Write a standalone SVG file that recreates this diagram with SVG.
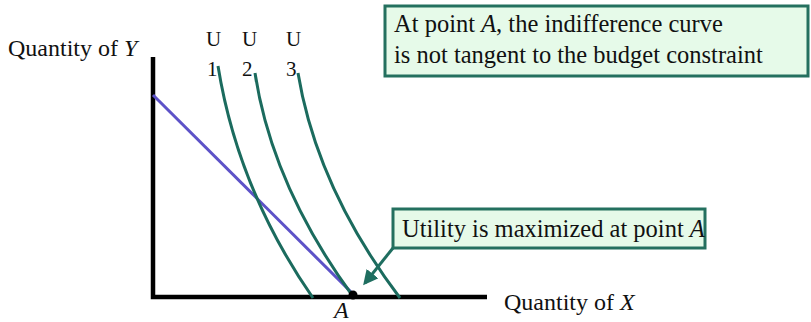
<svg xmlns="http://www.w3.org/2000/svg" width="811" height="322" viewBox="0 0 811 322" font-family="'Liberation Serif', 'DejaVu Serif', serif">
<defs>
<style>
text{font-family:'Liberation Serif','DejaVu Serif',serif;fill:#111}
.lbl{font-size:24px}
.box{fill:#e6fae9;stroke:#24705f;stroke-width:3}
.bt{font-size:24.5px}
.u{font-size:21px}
.curve{fill:none;stroke:#1b6b5e;stroke-width:3}
.axis{stroke:#000;stroke-width:4.5;fill:none}
</style>
<marker id="ah" viewBox="0 0 10 10" refX="8" refY="5" markerWidth="5" markerHeight="5" orient="auto"><path d="M0,0 L10,5 L0,10 z" fill="#1f6e60"/></marker>
</defs>
<rect width="811" height="322" fill="#fff"/>
<g id="axes">
<path class="axis" d="M153,57 V297 H487"/>
<text class="lbl" x="8" y="56">Quantity of <tspan font-style="italic">Y</tspan></text>
<text class="lbl" x="504" y="310">Quantity of <tspan font-style="italic">X</tspan></text>
</g>
<g id="budget">
<line x1="153" y1="95" x2="352" y2="293" stroke="#5d52c8" stroke-width="3"/>
</g>
<g id="U1">
<path class="curve" d="M218,66 Q238,190 313,298"/>
<text class="u" x="206" y="46">U</text>
<text class="u" x="207" y="76">1</text>
</g>
<g id="U2">
<path class="curve" d="M255,73 Q272,185 352,295"/>
<text class="u" x="242" y="46">U</text>
<text class="u" x="242" y="76">2</text>
</g>
<g id="U3">
<path class="curve" d="M298,73 Q317,188 400,298"/>
<text class="u" x="286" y="46">U</text>
<text class="u" x="286" y="76">3</text>
</g>
<g id="pointA">
<circle cx="353" cy="295" r="4.5" fill="#000"/>
<text class="lbl" x="334" y="318" font-style="italic">A</text>
</g>
<g id="note1">
<rect class="box" x="385" y="6" width="423" height="70"/>
<text class="bt" x="394" y="32">At point <tspan font-style="italic">A</tspan>, the indifference curve</text>
<text class="bt" x="394" y="63">is not tangent to the budget constraint</text>
</g>
<g id="note2">
<rect class="box" x="393" y="209" width="312" height="39"/>
<text class="bt" x="402" y="237">Utility is maximized at point <tspan font-style="italic">A</tspan></text>
</g>
<g id="connectors">
<line x1="393" y1="248" x2="365" y2="283" stroke="#1f6e60" stroke-width="3" marker-end="url(#ah)"/>
</g>
</svg>
